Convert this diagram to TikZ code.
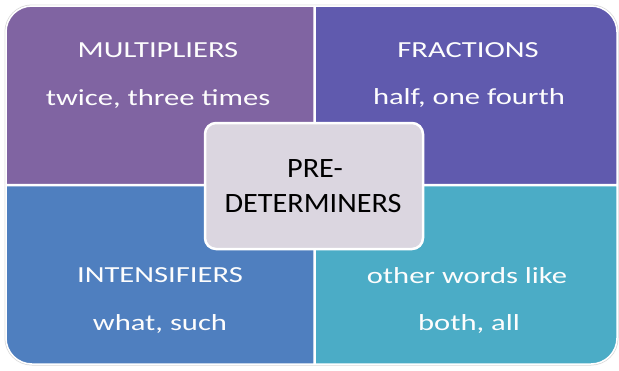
\documentclass[tikz,border=0pt]{standalone}
\usepackage{fontspec}
\setmainfont{Carlito}
\newfontfamily\quadfont[FakeStretch=1.33]{Carlito}
\newfontfamily\hubfont[FakeStretch=1.08]{Carlito}
\usetikzlibrary{positioning}
\definecolor{mulcol}{HTML}{8064A2}
\definecolor{fraccol}{HTML}{605AAE}
\definecolor{intcol}{HTML}{4F7FBF}
\definecolor{othcol}{HTML}{4BACC6}
\definecolor{hubcol}{HTML}{DBD6E0}
\tikzset{
  quad/.style ={draw=white, line width=1.5pt},
  rim/.style  ={draw=black!15, line width=1pt, rounded corners=27pt},
  head/.style ={anchor=base, text=white!95!hubcol, inner sep=0pt, font=\quadfont\fontsize{23}{27}\selectfont},
  hub/.style  ={rectangle, rounded corners=11pt, draw=white, line width=2.5pt, fill=hubcol,
                minimum width=218pt, minimum height=126pt, inner sep=0pt},
  hubtxt/.style={anchor=base, inner sep=0pt, font=\hubfont\fontsize{28}{32}\selectfont},
}

\begin{document}
\begin{tikzpicture}[x=1pt, y=-1pt]
  \useasboundingbox (0,0) rectangle (619,370);
  % faint outline round the whole block
  \draw[rim] (5,5) rectangle (618,365);

  % the four quarters, each with its one outer corner rounded
  \path[quad, fill=mulcol]  (314,184.5) -- (6,184.5) [rounded corners=26pt] -- (6,6) [sharp corners] -- (314,6) -- cycle;
  \path[quad, fill=fraccol] (315,184.5) -- (315,6) [rounded corners=26pt] -- (617,6) [sharp corners] -- (617,184.5) -- cycle;
  \path[quad, fill=intcol]  (314,185.5) -- (314,364) [rounded corners=26pt] -- (6,364) [sharp corners] -- (6,185.5) -- cycle;
  \path[quad, fill=othcol]  (315,185.5) -- (617,185.5) [rounded corners=26pt] -- (617,364) [sharp corners] -- (315,364) -- cycle;

  \node[head] (mul)  at (158,57)  {MULTIPLIERS};
  \node[head] (mulx) at (158,105) {twice, three times};
  \node[head] (frac)  at (468,57)  {FRACTIONS};
  \node[head] (fracx) at (469,104) {half, one fourth};
  \node[head] (int)  at (160,282) {INTENSIFIERS};
  \node[head] (intx) at (160,330) {what, such};
  \node[head] (oth)  at (467,283) {other words like};
  \node[head] (othx) at (469,330) {both, all};

  % centre box
  \node[hub] (hub) at (314,186) {};
  \node[hubtxt] (pre) at (315,177) {PRE-};
  \node[hubtxt] (det) at (313,212) {DETERMINERS};
\end{tikzpicture}
\end{document}
